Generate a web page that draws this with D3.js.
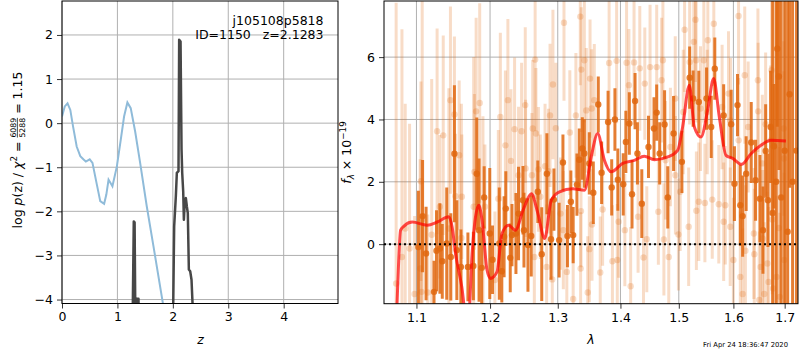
<!DOCTYPE html>
<meta charset="utf-8">
<head>
    <title>redshift fit</title>
    <style>
        body { margin: 0; background: #fff; }
        svg text { font-family: "DejaVu Sans", sans-serif; }
    </style>
</head>
<body>
<svg width="800" height="350"></svg>
<script src="https://d3js.org/d3.v7.min.js"></script>
<script>

    // ---- data: left panel, log p(z)
    var priorZ   = [0, 0.05, 0.10, 0.15, 0.20, 0.265, 0.33, 0.385, 0.43, 0.50, 0.55, 0.63, 0.69, 0.76, 0.80, 0.84, 0.91, 0.99, 1.06, 1.12, 1.18, 1.24, 1.32, 1.41, 1.53, 1.65, 1.82, 1.95];
    var priorLog = [0.15, 0.38, 0.45, 0.30, -0.08, -0.53, -0.75, -0.82, -0.87, -0.82, -0.90, -1.40, -1.77, -1.83, -1.62, -1.28, -1.43, -0.98, -0.38, 0.15, 0.47, 0.34, -0.19, -0.90, -1.89, -2.79, -4.08, -5.0];

    var pzZ   = [1.27, 1.295, 1.31, 1.327, 1.335, 1.345, 1.38, 1.39, 1.99, 2.006, 2.024, 2.054, 2.072, 2.102, 2.114, 2.139, 2.157, 2.169, 2.187, 2.199, 2.217, 2.235, 2.253, 2.27, 2.289, 2.313, 2.337, 2.355, 2.37];
    var pzLog = [-5, -2.23, -2.25, -5, -4.5, -3.98, -3.98, -5, -5, -4.2, -2.34, -1.66, -1.13, -1.09, 1.89, 1.85, -0.6, -1.13, -1.55, -2.19, -1.74, -1.70, -1.89, -2.04, -3.32, -3.36, -3.55, -4.08, -5];

    var zTicks = [0, 1, 2, 3, 4];
    var pTicks = [-4, -3, -2, -1, 0, 1, 2];

    // ---- data: right panel, spectrum  [lambda, flux, err]
    var darkPts = [
        [1.1025,-0.09,1.8],[1.108,0.90,1.8],[1.1126,-0.30,1.5],[1.1231,-1.53,1.0],[1.1264,-0.21,1.3],
        [1.1309,-0.14,1.45],[1.1341,-0.55,1.2],[1.1401,0.02,1.8],[1.1456,-0.41,1.4],[1.1505,2.90,2.2],
        [1.1538,-0.19,1.6],[1.1593,-0.73,1.2],[1.1690,-0.73,1.1],[1.1766,-0.70,1.1],[1.1813,2.26,1.8],
        [1.1845,0.45,2.3],[1.1882,-0.76,1.2],[1.1917,1.50,1.0],[1.1996,0.34,2.1],[1.2035,-0.50,1.1],
        [1.2132,0.02,1.8],[1.2168,-0.87,1.0],[1.2201,0.24,1.3],[1.2226,1.14,1.2],[1.2290,-0.44,1.1],
        [1.2315,0.29,1.0],[1.2373,0.34,1.3],[1.2411,0.98,1.5],[1.2476,1.41,1.1],[1.2491,0.45,1.2],
        [1.2550,-0.03,1.5],[1.2599,0.26,1.3],[1.2697,1.68,1.0],[1.2756,-0.32,1.5],[1.2834,2.26,1.3],
        [1.2897,0.16,1.3],[1.2941,1.43,1.0],[1.3021,0.13,1.2],[1.3080,2.62,0.9],[1.3150,0.26,1.0],
        [1.3203,1.36,1.0],[1.3239,0.29,0.9],[1.3298,1.91,1.0],[1.3335,2.71,1.0],[1.3383,3.07,1.0],
        [1.3415,2.91,1.1],[1.3494,2.59,1.0],[1.3558,1.65,1.0],[1.3638,4.48,0.9],[1.3692,2.29,1.0],
        [1.3797,3.92,1.0],[1.3856,1.82,0.9],[1.3909,4.00,1.0],[1.3957,2.07,1.0],[1.4046,1.92,1.0],
        [1.4090,3.28,1.0],[1.4148,3.87,1.0],[1.4193,1.60,1.1],[1.4244,4.59,0.9],[1.4284,2.91,1.0],
        [1.4358,1.30,1.1],[1.4472,3.12,1.0],[1.4567,3.71,1.0],[1.4613,4.22,0.9],[1.4665,2.91,1.0],
        [1.4750,3.84,1.1],[1.4806,1.50,1.0],[1.4908,3.55,1.2],[1.5055,2.64,1.0],[1.5194,5.34,1.0],
        [1.5256,4.67,0.9],[1.5359,4.56,1.0],[1.5500,4.67,1.0],[1.5586,3.76,1.0],[1.5652,5.63,1.0],
        [1.5817,4.13,1.0],[1.5958,3.85,1.1],[1.6020,1.94,1.2],[1.6078,4.46,1.0],[1.6131,1.25,1.3],
        [1.6176,0.90,1.3],[1.6243,2.26,1.2],[1.6341,3.26,1.3],[1.6425,2.05,1.3],[1.6510,1.46,1.4],
        [1.6569,0.45,1.4],[1.6622,2.99,1.5],[1.6667,1.41,1.5],[1.6720,3.76,1.8],[1.6760,1.00,7.0],
        [1.6786,3.14,2.0],[1.6830,2.00,8.0],[1.6852,6.27,2.5],[1.6884,5.38,3.0],[1.6930,1.50,8.0],
        [1.7000,3.00,7.0],[1.7060,0.40,8.0],[1.7100,4.81,3.0],[1.7160,2.00,7.0],[1.7240,3.00,5.0]
    ];

    var lightPts = [
        [1.0739,-1.26,9.0],[1.0813,-0.41,7.3],[1.0855,0.50,4.0],[1.0911,-0.14,4.0],[1.0976,-1.60,2.5],
        [1.1048,-0.78,3.5],[1.1058,2.02,3.2],[1.1066,-1.53,2.5],[1.1075,0.80,7.0],[1.1148,-1.55,2.5],
        [1.1200,0.30,5.0],[1.1272,3.62,3.3],[1.1309,1.20,2.3],[1.1354,3.49,3.2],[1.1430,0.50,4.5],
        [1.1451,4.62,3.0],[1.1505,4.16,2.5],[1.1520,1.54,2.0],[1.1570,2.85,2.4],[1.1600,0.20,4.3],
        [1.1607,1.52,2.0],[1.1770,1.20,4.8],[1.1780,2.32,2.5],[1.1804,4.26,3.0],[1.1854,4.53,3.2],
        [1.1900,0.50,3.6],[1.1927,1.20,2.0],[1.2069,-1.15,2.2],[1.2118,1.46,2.2],[1.2147,4.08,2.7],
        [1.2220,3.17,2.4],[1.2256,4.62,2.6],[1.2300,2.67,2.3],[1.2353,3.69,2.3],[1.2411,2.21,2.2],
        [1.2456,3.62,2.2],[1.2510,4.46,2.5],[1.2515,2.43,2.2],[1.2609,2.21,2.0],[1.2621,3.71,2.2],
        [1.2645,-0.41,2.0],[1.2657,5.92,2.3],[1.2669,3.55,2.1],[1.2706,2.40,2.0],[1.2735,1.52,2.0],
        [1.2806,2.50,2.0],[1.2830,-0.73,2.0],[1.2858,2.34,2.0],[1.2882,4.13,2.3],[1.2916,-1.13,2.2],
        [1.2926,5.12,2.4],[1.2971,3.72,2.1],[1.3043,0.98,1.8],[1.3086,0.45,1.9],[1.3096,7.10,2.5],
        [1.3140,-0.89,2.0],[1.3187,3.58,2.0],[1.3239,-1.76,2.0],[1.3282,4.13,2.0],[1.3351,7.30,2.2],
        [1.3356,-0.78,1.8],[1.3362,1.06,1.8],[1.3367,5.60,2.0],[1.3415,5.90,2.0],[1.3446,4.29,2.0],
        [1.3469,-1.55,1.8],[1.3494,-0.16,1.7],[1.3506,5.31,1.9],[1.3532,4.35,1.9],[1.3537,0.63,1.8],
        [1.3574,4.62,1.8],[1.3670,-0.91,1.8],[1.3708,1.11,1.8],[1.3814,5.81,2.0],[1.3868,-0.55,1.8],
        [1.3937,5.88,2.0],[1.3948,-0.51,1.8],[1.3970,0.72,1.8],[1.4073,0.45,1.8],[1.4102,5.82,2.0],
        [1.4141,5.10,1.8],[1.4170,-1.35,1.9],[1.4227,5.83,2.0],[1.4295,0.88,1.8],[1.4324,5.64,2.0],
        [1.4387,-0.43,1.8],[1.4409,5.15,1.8],[1.4443,0.16,1.7],[1.4499,5.68,2.0],[1.4613,5.68,2.0],
        [1.4642,1.04,1.7],[1.4698,5.26,2.0],[1.4721,5.90,2.0],[1.4738,0.15,1.8],[1.4767,2.69,1.9],
        [1.4823,-0.41,1.8],[1.4852,3.12,1.9],[1.4937,4.67,2.0],[1.4940,2.21,1.9],[1.4993,0.31,1.8],
        [1.5024,1.68,1.9],[1.5079,4.24,2.0],[1.5103,6.88,2.0],[1.5176,0.56,1.9],[1.5194,5.84,2.0],
        [1.5268,6.49,2.0],[1.5299,7.20,2.0],[1.5311,5.90,2.0],[1.5315,1.07,1.9],[1.5359,1.36,1.9],
        [1.5390,4.35,2.0],[1.5451,5.90,2.0],[1.5470,1.32,1.9],[1.5513,4.24,2.0],[1.5524,6.54,2.0],
        [1.5605,1.43,1.9],[1.5634,7.07,2.0],[1.5726,1.28,1.9],[1.5788,4.40,2.0],[1.5817,0.72,1.9],
        [1.5848,1.25,1.9],[1.5908,4.83,2.0],[1.5940,0.56,1.9],[1.5945,3.97,2.0],[1.6000,-0.51,2.0],
        [1.6098,7.32,2.2],[1.6100,3.33,2.0],[1.6131,-1.05,2.1],[1.6176,-1.60,2.1],[1.6216,5.42,2.2],
        [1.6229,-0.21,2.1],[1.6282,3.76,2.1],[1.6392,0.34,2.1],[1.6400,-0.32,2.1],[1.6471,5.26,2.3],
        [1.6475,4.26,2.2],[1.6496,-1.79,2.2],[1.6524,-0.73,2.2],[1.6557,2.59,2.2],[1.6560,0.18,2.2],
        [1.6594,-1.60,2.3],[1.6622,3.85,2.3],[1.6655,-0.62,2.3],[1.6680,-1.21,2.4],[1.6720,3.33,2.4],
        [1.6739,5.58,2.5],[1.6753,0.79,2.4],[1.6770,-1.42,2.5],[1.6837,-1.05,2.6],[1.6884,0.52,2.6],
        [1.6902,-1.69,2.7],[1.6981,3.71,2.8],[1.6985,2.75,2.8],[1.6990,-0.51,2.8]
    ];

    var modelWave = [1.0740,1.0755,1.0796,1.0839,1.0945,1.1141,1.1273,1.1429,1.1474,1.1520,1.1606,1.1657,1.1702,1.1748,1.1841,1.1887,1.1957,1.2005,1.2099,1.2170,1.2267,1.2364,1.2486,1.2600,1.2699,1.2800,1.2901,1.3027,1.3233,1.3417,1.3524,1.3629,1.3737,1.3846,1.4037,1.4232,1.4401,1.4574,1.4805,1.4980,1.5068,1.5188,1.5278,1.5399,1.5520,1.5630,1.5736,1.5861,1.5986,1.6156,1.6337,1.6530,1.6726,1.7025];
    var modelFlux = [-2.6,-1.6,0.45,0.58,0.71,0.61,0.71,0.88,0.55,-0.3,-1.37,-2.2,-2.2,-0.3,1.25,0.77,-0.83,-1.1,-0.89,0.34,0.61,0.45,1.14,1.62,0.98,0.18,1.41,1.68,1.78,1.73,2.8,3.55,2.69,2.32,2.59,2.69,2.82,2.71,2.8,3.01,3.76,5.1,3.76,3.44,4.29,5.31,4.08,2.85,2.75,2.56,2.9,3.17,3.33,3.31];

    var lamTicks = [1.1, 1.2, 1.3, 1.4, 1.5, 1.6, 1.7];
    var fTicks = [0, 2, 4, 6];

    var svg = d3.select("svg");
    var fs = 12.5;
    var orange = "#e0670f";

    //left panel geometry
    var L = {x0: 62, x1: 338, y0: 1, y1: 303.5};
    var xz = d3.scaleLinear().domain([0, 4.98]).range([L.x0, L.x1]);
    var yp = d3.scaleLinear().domain([-4.09, 2.77]).range([L.y1, L.y0]);

    //right panel geometry
    var R = {x0: 384, x1: 798, y0: 1, y1: 303.7};
    var xl = d3.scaleLog().domain([1.0586, 1.727]).range([R.x0, R.x1]);
    var yf = d3.scaleLinear().domain([-1.91, 7.8]).range([R.y1, R.y0]);

    var defs = svg.append("defs");
    defs.append("clipPath").attr("id", "clipL").append("rect")
            .attr("x", L.x0).attr("y", L.y0).attr("width", L.x1 - L.x0).attr("height", L.y1 - L.y0);
    defs.append("clipPath").attr("id", "clipR").append("rect")
            .attr("x", R.x0).attr("y", R.y0).attr("width", R.x1 - R.x0).attr("height", R.y1 - R.y0);

    //grids
    function grid(g, xs, xv, ys, yv, box) {
        g.selectAll(".gx").data(xv).enter().append("line")
                .attr("x1", d => xs(d)).attr("x2", d => xs(d))
                .attr("y1", box.y0).attr("y2", box.y1);
        g.selectAll(".gy").data(yv).enter().append("line")
                .attr("x1", box.x0).attr("x2", box.x1)
                .attr("y1", d => ys(d)).attr("y2", d => ys(d));
        g.attr("stroke", "#b0b0b0").attr("stroke-width", 1);
    }
    grid(svg.append("g"), xz, zTicks, yp, pTicks, L);
    grid(svg.append("g"), xl, lamTicks, yf, fTicks, R);

    // ---- left panel curves
    var lp = svg.append("g").attr("clip-path", "url(#clipL)");
    var lineZ = d3.line().x(d => xz(d[0])).y(d => yp(d[1]));
    lp.append("path")
            .attr("d", lineZ(d3.zip(priorZ, priorLog)))
            .attr("fill", "none").attr("stroke", "#8fbbd9").attr("stroke-width", 2);
    lp.append("path")
            .attr("d", lineZ(d3.zip(pzZ, pzLog)))
            .attr("fill", "none").attr("stroke", "#474747").attr("stroke-width", 2.5)
            .attr("stroke-linejoin", "round");

    //label in the corner
    svg.append("text").attr("x", 323.5).attr("y", 24.5).attr("text-anchor", "end")
            .style("font-size", fs + "px").text("j105108p5818");
    svg.append("text").attr("x", 323.5).attr("y", 39).attr("text-anchor", "end")
            .style("font-size", fs + "px").style("white-space", "pre").text("ID=1150   z=2.1283");

    // ---- right panel spectrum
    var rp = svg.append("g").attr("clip-path", "url(#clipR)");

    function errbars(g, pts, op) {
        g.selectAll("line").data(pts).enter().append("line")
                .attr("x1", d => xl(d[0])).attr("x2", d => xl(d[0]))
                .attr("y1", d => yf(d[1] - d[2])).attr("y2", d => yf(d[1] + d[2]))
                .attr("stroke", orange).attr("stroke-width", 3).attr("stroke-opacity", op);
        g.selectAll("circle").data(pts).enter().append("circle")
                .attr("cx", d => xl(d[0])).attr("cy", d => yf(d[1])).attr("r", 3.2)
                .attr("fill", orange).attr("fill-opacity", op);
    }
    errbars(rp.append("g"), lightPts, 0.23);
    errbars(rp.append("g"), darkPts, 0.85);

    var lineM = d3.line().curve(d3.curveMonotoneX).x(d => xl(d[0])).y(d => yf(d[1]));
    rp.append("path").attr("d", lineM(d3.zip(modelWave, modelFlux)))
            .attr("fill", "none").attr("stroke", "#ff0000").attr("stroke-opacity", 0.7)
            .attr("stroke-width", 3).attr("stroke-linejoin", "round");

    rp.append("line").attr("x1", R.x0).attr("x2", R.x1).attr("y1", yf(0)).attr("y2", yf(0))
            .attr("stroke", "#000").attr("stroke-width", 2).attr("stroke-dasharray", "2,3");

    // ---- axes
    function styleAxis(g) {
        g.select(".domain").remove();
        g.selectAll("text").style("font-size", fs + "px").style("font-family", "DejaVu Sans");
        g.selectAll("line").attr("stroke", "#000").attr("stroke-width", 0.8);
    }
    svg.append("g").attr("transform", "translate(0," + L.y1 + ")")
            .call(d3.axisBottom(xz).tickValues(zTicks).tickSize(5).tickPadding(4).tickFormat(d3.format("d")))
            .call(styleAxis);
    svg.append("g").attr("transform", "translate(" + L.x0 + ",0)")
            .call(d3.axisLeft(yp).tickValues(pTicks).tickSize(5).tickPadding(4).tickFormat(d3.format("d")))
            .call(styleAxis);
    svg.append("g").attr("transform", "translate(0," + R.y1 + ")")
            .call(d3.axisBottom(xl).tickValues(lamTicks).tickSize(5).tickPadding(4).tickFormat(d3.format(".1f")))
            .call(styleAxis);
    svg.append("g").attr("transform", "translate(" + R.x0 + ",0)")
            .call(d3.axisLeft(yf).tickValues(fTicks).tickSize(5).tickPadding(4).tickFormat(d3.format("d")))
            .call(styleAxis);

    //frames
    [L, R].forEach(function (b) {
        svg.append("rect").attr("x", b.x0).attr("y", b.y0)
                .attr("width", b.x1 - b.x0).attr("height", b.y1 - b.y0)
                .attr("fill", "none").attr("stroke", "#000").attr("stroke-width", 1);
    });

    // ---- axis labels
    svg.append("text").attr("x", xz(2.5)).attr("y", 344).attr("text-anchor", "middle")
            .style("font-size", fs + "px").style("font-style", "italic").text("z");
    svg.append("text").attr("x", (R.x0 + R.x1) / 2).attr("y", 344).attr("text-anchor", "middle")
            .style("font-size", fs + "px").style("font-style", "italic").text("λ");

    //builds a rotated label out of pieces
    function mathLabel(cx, cy, parts) {
        var outer = svg.append("g").attr("transform", "translate(" + cx + "," + cy + ") rotate(-90)");
        var g = outer.append("g");
        var x = 0;
        parts.forEach(function (p) {
            if (p.frac) {
                var sz = p.size;
                var a = g.append("text").attr("x", x).attr("y", -fs * 0.33 - 1.5)
                        .style("font-size", sz + "px").text(p.frac[0]);
                var b = g.append("text").attr("x", x).attr("y", -fs * 0.33 + sz * 0.75 + 1.5)
                        .style("font-size", sz + "px").text(p.frac[1]);
                var w = Math.max(a.node().getComputedTextLength(), b.node().getComputedTextLength());
                g.append("line").attr("x1", x).attr("x2", x + w)
                        .attr("y1", -fs * 0.33).attr("y2", -fs * 0.33)
                        .attr("stroke", "#000").attr("stroke-width", 0.7);
                x += w;
                return;
            }
            var t = g.append("text").attr("x", x).attr("y", p.dy || 0)
                    .style("font-size", (p.size || fs) + "px")
                    .style("font-style", p.it ? "italic" : "normal")
                    .style("white-space", "pre").text(p.t);
            x += t.node().getComputedTextLength();
        });
        g.attr("transform", "translate(" + (-x / 2) + ",0)");
    }

    mathLabel(21.5, 150, [
        {t: "log "}, {t: "p", it: true}, {t: "(z) / "}, {t: "χ", it: true},
        {t: "2", size: fs * 0.7, dy: -5}, {t: " = "},
        {frac: ["6089", "5288"], size: fs * 0.62}, {t: " = 1.15"}
    ]);
    mathLabel(351, 152.5, [
        {t: "f", it: true}, {t: "λ", size: fs * 0.7, dy: 3, it: true}, {t: " × 10"},
        {t: "−19", size: fs * 0.7, dy: -5.5}
    ]);

    //time stamp
    svg.append("text").attr("x", 788).attr("y", 346.5).attr("text-anchor", "end")
            .style("font-size", "6.8px").text("Fri Apr 24 18:36:47 2020");

</script>
</body>
